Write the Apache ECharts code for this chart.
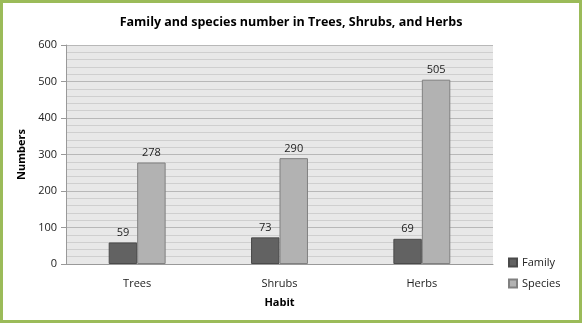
<!DOCTYPE html>
<html>
<head>
<meta charset="utf-8">
<script src="https://cdn.jsdelivr.net/npm/echarts@6/dist/echarts.min.js"></script>
<style>
  html, body { margin: 0; padding: 0; background: #fff; }
  #main { width: 582px; height: 323px; box-sizing: border-box; border: 3px solid #9bbb59; }
</style>
</head>
<body>
<div id="main"></div>
<script>
// data
var habits = ['Trees', 'Shrubs', 'Herbs'];
var familyNum = [59, 73, 69];
var speciesNum = [278, 290, 505];

var chart = echarts.init(document.getElementById('main'));

var font = '"Open Sans", "Liberation Sans", sans-serif';

var option = {
  backgroundColor: '#fff',
  textStyle: { fontFamily: font },
  title: {
    text: 'Family and species number in Trees, Shrubs, and Herbs',
    left: 'center',
    top: 8,
    textStyle: { fontSize: 12.5, fontWeight: 'bold', color: '#000', fontFamily: font }
  },
  legend: {
    orient: 'vertical',
    left: 500,
    top: 249,
    itemWidth: 8,
    itemHeight: 8,
    itemGap: 10,
    icon: 'rect',
    textStyle: { fontSize: 11, color: '#222', fontFamily: font },
    data: ['Family', 'Species']
  },
  grid: { left: 63, right: 86, top: 42, bottom: 56 },
  xAxis: {
    type: 'category',
    data: habits,
    name: 'Habit',
    nameLocation: 'middle',
    nameGap: 33,
    nameTextStyle: { fontSize: 11, fontWeight: 'bold', color: '#000' },
    axisLine: { lineStyle: { color: '#999' } },
    axisTick: { show: false },
    axisLabel: { fontSize: 11, color: '#222', margin: 14 }
  },
  yAxis: {
    type: 'value',
    min: 0,
    max: 600,
    interval: 100,
    name: 'Numbers',
    nameLocation: 'middle',
    nameGap: 31,
    nameTextStyle: { fontSize: 11, fontWeight: 'bold', color: '#000' },
    axisLine: { show: true, lineStyle: { color: '#999' } },
    axisTick: { show: true, length: 5, lineStyle: { color: '#999' } },
    axisLabel: { fontSize: 11, color: '#222', margin: 9 },
    splitLine: { lineStyle: { color: '#b8b8b8', width: 1 } },
    minorTick: { show: false, splitNumber: 5 },
    minorSplitLine: { show: true, lineStyle: { color: '#cfcfcf', width: 1 } },
    splitArea: { show: true, areaStyle: { color: ['#e8e8e8', '#e8e8e8'] } }
  },
  series: [
    {
      name: 'Family',
      type: 'bar',
      data: familyNum,
      barWidth: '20%',
      barGap: '0%',
      itemStyle: { color: '#626262', borderColor: '#4a4a4a', borderWidth: 1 },
      label: { show: true, position: 'top', fontSize: 11, color: '#222', distance: 4 }
    },
    {
      name: 'Species',
      type: 'bar',
      data: speciesNum,
      barWidth: '20%',
      itemStyle: { color: '#b2b2b2', borderColor: '#808080', borderWidth: 1 },
      label: { show: true, position: 'top', fontSize: 11, color: '#222', distance: 4 }
    }
  ]
};

chart.setOption(option);
</script>
</body>
</html>
